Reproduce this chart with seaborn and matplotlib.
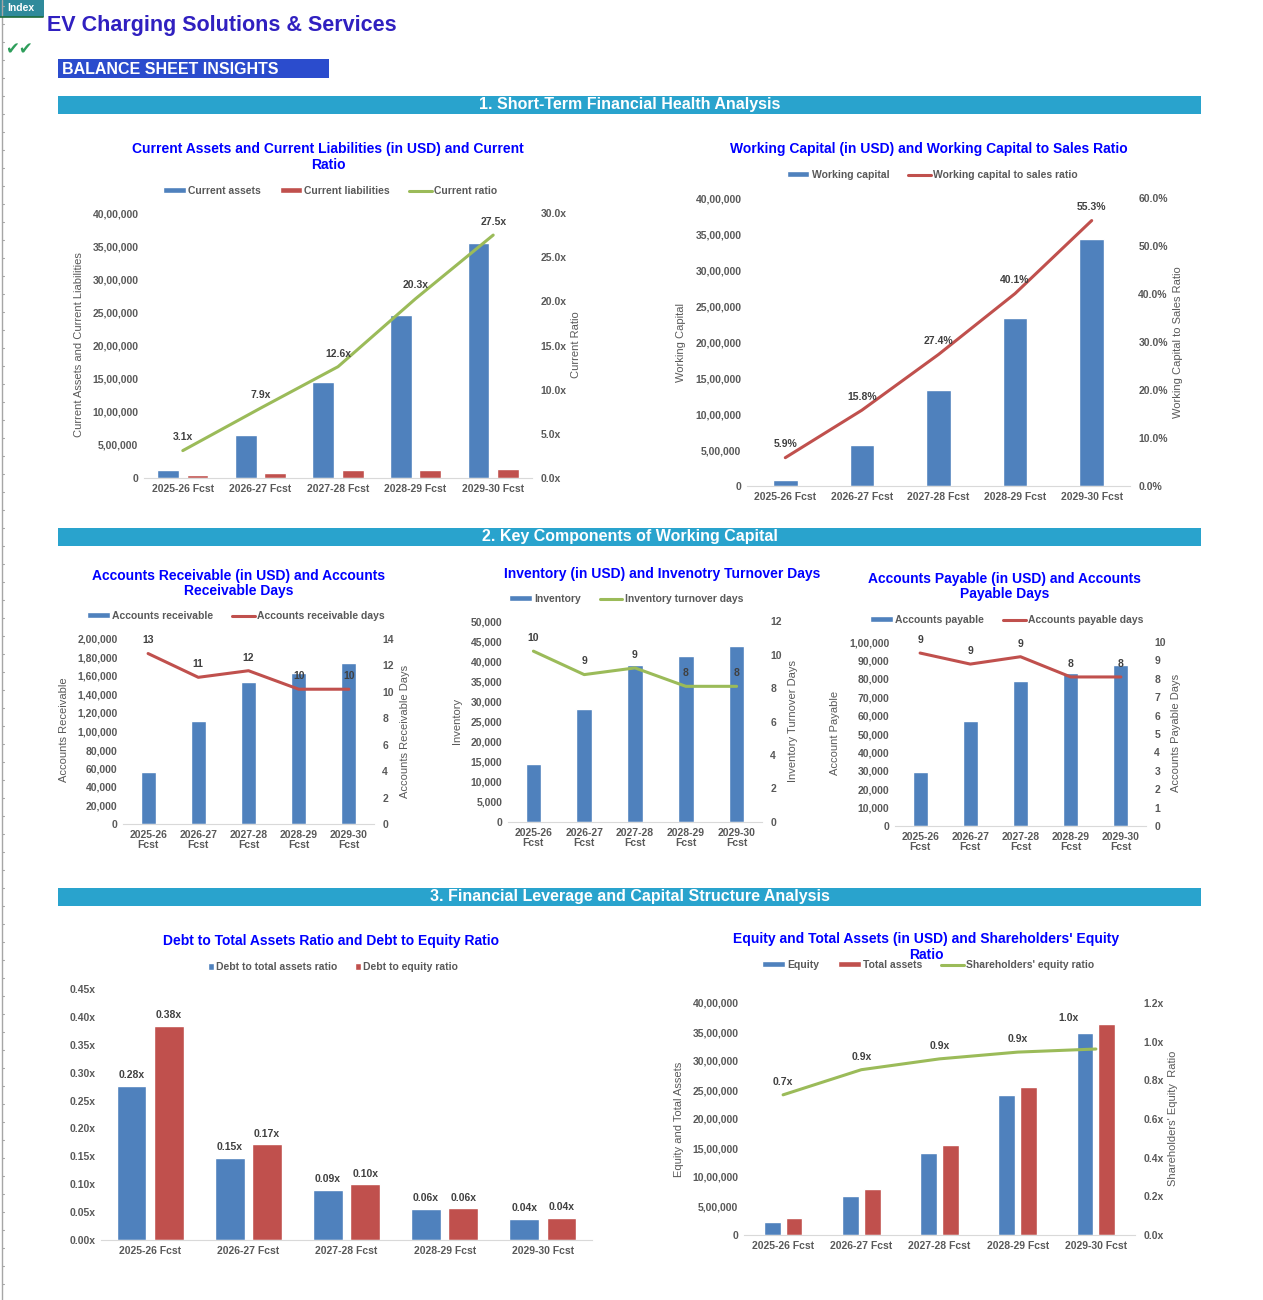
import numpy as np
import pandas as pd
import matplotlib.pyplot as plt
import seaborn as sns
from matplotlib.patches import Patch, Rectangle
from matplotlib.lines import Line2D

# ---- data ----
years = ['2025-26 Fcst', '2026-27 Fcst', '2027-28 Fcst', '2028-29 Fcst', '2029-30 Fcst']
years_2line = [y.replace(' ', '\n') for y in years]

current_assets = [125000, 655000, 1445000, 2460000, 3545000]
current_liabilities = [40000, 83000, 115000, 121000, 129000]
current_ratio = [3.1, 7.9, 12.6, 20.3, 27.5]

working_capital = [85000, 575000, 1330000, 2340000, 3425000]
wc_to_sales = [0.059, 0.158, 0.274, 0.401, 0.553]

accounts_receivable = [56000, 111000, 154000, 163000, 174000]
ar_days = [12.9, 11.1, 11.6, 10.2, 10.2]

inventory = [14500, 28100, 39000, 41300, 43800]
inventory_days = [10.2, 8.8, 9.2, 8.1, 8.1]

accounts_payable = [29300, 57000, 78700, 83000, 87400]
ap_days = [9.4, 8.8, 9.2, 8.1, 8.1]

debt_to_assets = [0.276, 0.147, 0.090, 0.056, 0.038]
debt_to_equity = [0.384, 0.172, 0.100, 0.057, 0.040]

equity = [224000, 674000, 1416000, 2418000, 3489000]
total_assets = [294000, 794000, 1554000, 2556000, 3644000]
equity_ratio = [0.725, 0.855, 0.911, 0.946, 0.962]

BLUE = '#4F81BD'
RED = '#C0504D'
GREEN = '#9BBB59'
GREY = '#595959'
LABEL = '#404040'
TITLE_BLUE = '#0000FF'
BANNER = '#29A3CD'

W, H = 1263, 1300

sns.set_theme(style='white')
plt.rcParams['font.family'] = ['Liberation Sans', 'DejaVu Sans']

fig = plt.figure(figsize=(W / 100, H / 100), dpi=100)
fig.patch.set_facecolor('white')


def px_axes(x0, y0, x1, y1):
    return fig.add_axes([x0 / W, 1 - y1 / H, (x1 - x0) / W, (y1 - y0) / H])


def px_text(x, y, s, **kw):
    fig.text(x / W, 1 - y / H, s, **kw)


def px_rect(x0, y0, x1, y1, color):
    fig.add_artist(Rectangle((x0 / W, 1 - y1 / H), (x1 - x0) / W, (y1 - y0) / H,
                             transform=fig.transFigure, facecolor=color, edgecolor='none'))


def inr(v):
    # indian digit grouping: 40,00,000
    s = str(int(round(v)))
    if len(s) <= 3:
        return s
    last3, rest = s[-3:], s[:-3]
    groups = []
    while len(rest) > 2:
        groups.insert(0, rest[-2:])
        rest = rest[:-2]
    if rest:
        groups.insert(0, rest)
    return ','.join(groups + [last3])


def style_axes(ax, ymax, step, fmt, xlabels):
    ax.set_xlim(-0.5, 4.5)
    ax.set_ylim(0, ymax)
    ticks = np.arange(0, ymax + step / 2, step)
    ax.set_yticks(ticks, [fmt(t) for t in ticks], fontsize=7.5, fontweight='bold', color=GREY)
    ax.set_xticks(range(5), xlabels, fontsize=7.5, fontweight='bold', color=GREY, linespacing=1.1)
    ax.tick_params(axis='y', length=0, pad=4)
    ax.tick_params(axis='x', length=0, pad=4)
    ax.set_xlabel('')
    ax.set_ylabel('')
    sns.despine(ax=ax, left=True)
    ax.spines['bottom'].set_color('#D9D9D9')
    ax.spines['bottom'].set_linewidth(0.8)


def add_line(ax, values, color, ymax, step, fmt, label_fmt, offsets=None):
    ax2 = ax.twinx()
    sns.lineplot(x=np.arange(len(values)), y=values, color=color, lw=2.2, ax=ax2)
    ax2.set_ylim(0, ymax)
    ticks = np.arange(0, ymax + step / 2, step)
    ax2.set_yticks(ticks, [fmt(t) for t in ticks], fontsize=7.5, fontweight='bold', color=GREY)
    ax2.tick_params(length=0, pad=6)
    ax2.set_ylabel('')
    for s in ax2.spines.values():
        s.set_visible(False)
    offsets = offsets or {}
    for i, v in enumerate(values):
        dx, dy = offsets.get(i, (0, 9.5))
        ax2.annotate(label_fmt(v), (i, v), xytext=(dx, dy), textcoords='offset points',
                     ha='center', va='center', fontsize=7.5, fontweight='bold', color=LABEL)
    ax.set_xlim(-0.5, 4.5)
    return ax2


def legend(x, y, handles, **kw):
    opts = dict(handlelength=2.2, handleheight=0.55, handletextpad=0.2, columnspacing=1.8)
    opts.update(kw)
    fig.legend(handles=handles, loc='center', bbox_to_anchor=(x / W, 1 - y / H),
               ncol=len(handles), frameon=False, prop={'size': 7.5, 'weight': 'bold'},
               labelcolor=GREY, borderaxespad=0, borderpad=0, **opts)


def title(x, y, s):
    px_text(x, y, s, ha='center', va='center', fontsize=10, fontweight='bold',
            color=TITLE_BLUE, linespacing=1.15)


def ylab(x, y, s):
    px_text(x, y, s, ha='center', va='center', rotation=90, fontsize=8, color=GREY)


def grouped(ax, a, b, names, width, gap):
    df = pd.DataFrame({'year': years * 2,
                       'series': [names[0]] * 5 + [names[1]] * 5,
                       'value': list(a) + list(b)})
    sns.barplot(data=df, x='year', y='value', hue='series', palette=[BLUE, RED],
                width=width, gap=gap, saturation=1, errorbar=None, legend=False, ax=ax)


def single(ax, values, width):
    sns.barplot(x=years, y=values, color=BLUE, width=width, saturation=1, errorbar=None, ax=ax)


pct = lambda v: f'{v:.1%}'
x1 = lambda v: f'{v:.1f}x'
x2 = lambda v: f'{v:.2f}x'
d0 = lambda v: f'{v:.0f}'

# ---- sheet decorations ----
fig.add_artist(Line2D([1.5 / W, 1.5 / W], [0, 1], transform=fig.transFigure, color='#A6A6A6', lw=1))
for ry in range(6, H, 18):
    fig.add_artist(Line2D([1.5 / W, 4 / W], [1 - ry / H] * 2, transform=fig.transFigure,
                          color='#A6A6A6', lw=0.8))
px_rect(0, 0, 44, 17, '#2F8A9B')
fig.add_artist(Line2D([0, 43 / W], [1 - 17 / H] * 2, transform=fig.transFigure, color='#1E6B3A', lw=1.2))
px_text(21, 8, 'Index', ha='center', va='center', fontsize=7.5, fontweight='bold', color='white')
px_text(5, 49, '✔✔', ha='left', va='center', fontsize=12, style='italic', color='#2E9E5B',
        family=['DejaVu Sans'])
px_text(47, 26, 'EV Charging Solutions & Services', ha='left', va='center', fontsize=15.5,
        fontweight='bold', color='#3020C0')
px_rect(58, 59, 329, 78, '#2B4CCD')
px_text(62, 69, 'BALANCE SHEET INSIGHTS', ha='left', va='center', fontsize=11.5,
        fontweight='bold', color='white')

for y0, text in [(96, '1. Short-Term Financial Health Analysis'),
                 (528, '2. Key Components of Working Capital'),
                 (888, '3. Financial Leverage and Capital Structure Analysis')]:
    px_rect(58, y0, 1201, y0 + 18, BANNER)
    px_text(630, y0 + 9, text, ha='center', va='center', fontsize=11.5, fontweight='bold', color='white')

# ---- 1. current assets / liabilities / current ratio ----
ax = px_axes(144, 213, 532, 478)
grouped(ax, current_assets, current_liabilities, ['Current assets', 'Current liabilities'], 0.76, 0.26)
style_axes(ax, 4000000, 500000, inr, years)
add_line(ax, current_ratio, GREEN, 30, 5, x1, x1)
title(328, 157, 'Current Assets and Current Liabilities (in USD) and Current\nRatio')
legend(330, 191, [Patch(facecolor=BLUE, label='Current assets'),
                  Patch(facecolor=RED, label='Current liabilities'),
                  Line2D([], [], color=GREEN, lw=2.2, label='Current ratio')])
ylab(79, 345, 'Current Assets and Current Liabilities')
ylab(576, 345, 'Current Ratio')

# ---- 2. working capital ----
ax = px_axes(747, 198, 1130, 486)
single(ax, working_capital, 0.32)
style_axes(ax, 4000000, 500000, inr, years)
add_line(ax, wc_to_sales, RED, 0.6, 0.1, pct, pct)
title(929, 149, 'Working Capital (in USD) and Working Capital to Sales Ratio')
legend(932, 175, [Patch(facecolor=BLUE, label='Working capital'),
                  Line2D([], [], color=RED, lw=2.2, label='Working capital to sales ratio')])
ylab(681, 342, 'Working Capital')
ylab(1178, 342, 'Working Capital to Sales Ratio')

# ---- 3. accounts receivable ----
ax = px_axes(123, 639, 374, 824)
single(ax, accounts_receivable, 0.30)
style_axes(ax, 200000, 20000, inr, years_2line)
add_line(ax, ar_days, RED, 14, 2, d0, d0)
title(239, 583.5, 'Accounts Receivable (in USD) and Accounts\nReceivable Days')
legend(236, 616, [Patch(facecolor=BLUE, label='Accounts receivable'),
                  Line2D([], [], color=RED, lw=2.2, label='Accounts receivable days')])
ylab(64, 730, 'Accounts Receivable')
ylab(405, 731, 'Accounts Receivable Days')

# ---- 4. inventory ----
ax = px_axes(508, 621, 762, 822)
single(ax, inventory, 0.31)
style_axes(ax, 50000, 5000, inr, years_2line)
add_line(ax, inventory_days, GREEN, 12, 2, d0, d0)
title(662, 574, 'Inventory (in USD) and Invenotry Turnover Days')
legend(626, 599, [Patch(facecolor=BLUE, label='Inventory'),
                  Line2D([], [], color=GREEN, lw=2.2, label='Inventory turnover days')])
ylab(457, 721, 'Inventory')
ylab(793, 721, 'Inventory Turnover Days')

# ---- 5. accounts payable ----
ax = px_axes(895, 642, 1146, 826)
single(ax, accounts_payable, 0.30)
style_axes(ax, 100000, 10000, inr, years_2line)
add_line(ax, ap_days, RED, 10, 1, d0, d0)
title(1005, 586.5, 'Accounts Payable (in USD) and Accounts\nPayable Days')
legend(1007, 620, [Patch(facecolor=BLUE, label='Accounts payable'),
                   Line2D([], [], color=RED, lw=2.2, label='Accounts payable days')])
ylab(835, 733, 'Account Payable')
ylab(1176, 733, 'Accounts Payable Days')

# ---- 6. debt ratios ----
ax = px_axes(101, 989, 592, 1240)
grouped(ax, debt_to_assets, debt_to_equity, ['Debt to total assets ratio', 'Debt to equity ratio'], 0.76, 0.2)
style_axes(ax, 0.45, 0.05, x2, years)
for cont in ax.containers:
    ax.bar_label(cont, labels=[x2(v) for v in cont.datavalues], padding=4,
                 fontsize=7.5, fontweight='bold', color=LABEL)
title(331, 941, 'Debt to Total Assets Ratio and Debt to Equity Ratio')
legend(333, 967, [Patch(facecolor=BLUE, label='Debt to total assets ratio'),
                  Patch(facecolor=RED, label='Debt to equity ratio')],
       handlelength=0.6, handleheight=0.6, columnspacing=1.7)

# ---- 7. equity / total assets / equity ratio ----
ax = px_axes(744, 1003, 1135, 1235)
grouped(ax, equity, total_assets, ['Equity', 'Total assets'], 0.56, 0.23)
style_axes(ax, 4000000, 500000, inr, years)
add_line(ax, equity_ratio, GREEN, 1.2, 0.2, x1, x1, offsets={4: (-20, 22)})
title(926, 947, "Equity and Total Assets (in USD) and Shareholders' Equity\nRatio")
legend(928, 965, [Patch(facecolor=BLUE, label='Equity'),
                  Patch(facecolor=RED, label='Total assets'),
                  Line2D([], [], color=GREEN, lw=2.2, label="Shareholders' equity ratio")])
ylab(679, 1119, 'Equity and Total Assets')
ylab(1173, 1118, "Shareholders' Equity  Ratio")

fig.savefig('out.png', dpi=100)
plt.close(fig)
